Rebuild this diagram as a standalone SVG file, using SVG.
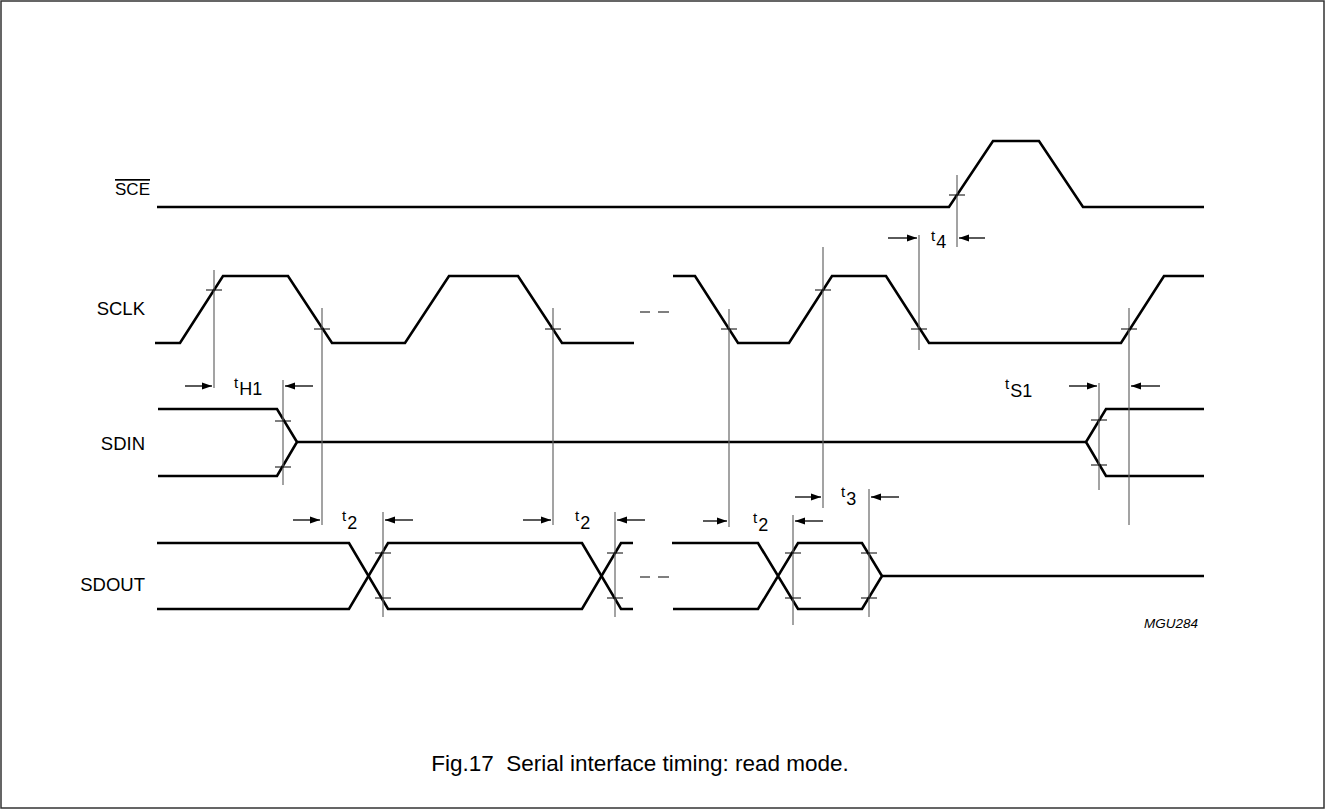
<svg xmlns="http://www.w3.org/2000/svg" width="1326" height="810" viewBox="0 0 1326 810">
<style>
.sig{fill:none;stroke:#000;stroke-width:2.6;stroke-linejoin:miter}
.ref{stroke:#666;stroke-width:1.2}
.tick{stroke:#000;stroke-width:1}
.arr{stroke:#000;stroke-width:1.3;marker-end:url(#ah)}
.lbl{font-family:"Liberation Sans",Arial,sans-serif;font-size:18.5px;fill:#000}
.t{font-family:"Liberation Sans",Arial,sans-serif;font-size:15px;fill:#000}
.sub{font-family:"Liberation Sans",Arial,sans-serif;font-size:18px;fill:#000}
.dash{stroke:#555;stroke-width:1.5}
</style>
<defs>
<marker id="ah" markerWidth="10" markerHeight="8" refX="10" refY="4" orient="auto" markerUnits="userSpaceOnUse">
<path d="M0,0.5 L10,4 L0,7.5 Z" fill="#000"/>
</marker>
</defs>
<rect x="1" y="1" width="1323" height="807" fill="#fff" stroke="#333" stroke-width="1.5"/>

<g id="labels">
<text class="lbl" x="150" y="195" text-anchor="end" text-decoration="overline" style="font-size:17px">SCE</text>
<text class="lbl" x="145" y="315" text-anchor="end">SCLK</text>
<text class="lbl" x="145" y="450" text-anchor="end">SDIN</text>
<text class="lbl" x="145" y="591" text-anchor="end">SDOUT</text>
</g>

<g id="SCE">
<polyline class="sig" points="157,207 949,207 993,141 1039,141 1083,207 1204,207"/>
</g>
<g id="SCLK">
<polyline class="sig" points="155,343 180,343 223,276 288,276 332,343 405,343 449,276 518,276 562,343 634,343"/>
<polyline class="sig" points="673,276 695,276 738,343 789,343 832,276 886,276 929,343 1121,343 1164,276 1204,276"/>
<line class="dash" x1="640" y1="312" x2="650" y2="312"/>
<line class="dash" x1="658" y1="312" x2="669" y2="312"/>
</g>
<g id="SDIN">
<polyline class="sig" points="158,409 277,409 297,442 277,476 158,476"/>
<line class="sig" x1="297" y1="442" x2="1086" y2="442"/>
<polyline class="sig" points="1204,409 1106,409 1086,442 1106,476 1204,476"/>
</g>
<g id="SDOUT">
<polyline class="sig" points="157,543 349,543 388,609 582,609 621,543 633,543"/>
<polyline class="sig" points="157,609 349,609 388,543 582,543 621,609 633,609"/>
<line class="dash" x1="640" y1="577" x2="650" y2="577"/>
<line class="dash" x1="658" y1="577" x2="669" y2="577"/>
<polyline class="sig" points="672,543 758,543 798,609 862,609 882,576 862,543 798,543 758,609 673,609"/>
<line class="sig" x1="882" y1="576" x2="1204" y2="576"/>
</g>

<g id="connectors">
<g id="reflines">
<line class="ref" x1="214" y1="270" x2="214" y2="388"/>
<line class="ref" x1="322" y1="308" x2="322" y2="525"/>
<line class="ref" x1="283" y1="380" x2="283" y2="485"/>
<line class="ref" x1="553" y1="308" x2="553" y2="525"/>
<line class="ref" x1="383" y1="512" x2="383" y2="617"/>
<line class="ref" x1="615" y1="512" x2="615" y2="617"/>
<line class="ref" x1="729" y1="309" x2="729" y2="527"/>
<line class="ref" x1="793" y1="515" x2="793" y2="625"/>
<line class="ref" x1="823" y1="247" x2="823" y2="508"/>
<line class="ref" x1="869" y1="489" x2="869" y2="617"/>
<line class="ref" x1="919" y1="235" x2="919" y2="350"/>
<line class="ref" x1="957" y1="175" x2="957" y2="247"/>
<line class="ref" x1="1099" y1="383" x2="1099" y2="490"/>
<line class="ref" x1="1129" y1="308" x2="1129" y2="525"/>
</g>
<g id="ticks">
<line class="tick" x1="949" y1="195" x2="965" y2="195"/>
<line class="tick" x1="206" y1="290" x2="222" y2="290"/>
<line class="tick" x1="314" y1="329" x2="330" y2="329"/>
<line class="tick" x1="545" y1="329" x2="561" y2="329"/>
<line class="tick" x1="721" y1="329" x2="737" y2="329"/>
<line class="tick" x1="815" y1="290" x2="831" y2="290"/>
<line class="tick" x1="911" y1="329" x2="927" y2="329"/>
<line class="tick" x1="1121" y1="329" x2="1137" y2="329"/>
<line class="tick" x1="275" y1="421" x2="291" y2="421"/>
<line class="tick" x1="275" y1="467" x2="291" y2="467"/>
<line class="tick" x1="1091" y1="420" x2="1107" y2="420"/>
<line class="tick" x1="1091" y1="465" x2="1107" y2="465"/>
<line class="tick" x1="375" y1="553" x2="391" y2="553"/>
<line class="tick" x1="375" y1="598" x2="391" y2="598"/>
<line class="tick" x1="607" y1="553" x2="623" y2="553"/>
<line class="tick" x1="607" y1="598" x2="623" y2="598"/>
<line class="tick" x1="785" y1="553" x2="801" y2="553"/>
<line class="tick" x1="785" y1="598" x2="801" y2="598"/>
<line class="tick" x1="861" y1="553" x2="877" y2="553"/>
<line class="tick" x1="861" y1="598" x2="877" y2="598"/>
</g>
<g id="arrows">
<line class="arr" x1="185" y1="386" x2="212" y2="386"/>
<line class="arr" x1="313" y1="386" x2="285" y2="386"/>
<line class="arr" x1="1069" y1="386" x2="1097" y2="386"/>
<line class="arr" x1="1160" y1="386" x2="1131" y2="386"/>
<line class="arr" x1="888" y1="238" x2="917" y2="238"/>
<line class="arr" x1="985" y1="238" x2="959" y2="238"/>
<line class="arr" x1="293" y1="520" x2="320" y2="520"/>
<line class="arr" x1="413" y1="520" x2="385" y2="520"/>
<line class="arr" x1="523" y1="520" x2="551" y2="520"/>
<line class="arr" x1="645" y1="520" x2="617" y2="520"/>
<line class="arr" x1="703" y1="521" x2="727" y2="521"/>
<line class="arr" x1="823" y1="521" x2="795" y2="521"/>
<line class="arr" x1="795" y1="497" x2="821" y2="497"/>
<line class="arr" x1="899" y1="497" x2="871" y2="497"/>
</g>
</g>

<g id="timing-labels">
<text x="931" y="241"><tspan class="t">t</tspan><tspan class="sub" dx="1" dy="7">4</tspan></text>
<text x="234" y="388"><tspan class="t">t</tspan><tspan class="sub" dx="1" dy="7">H1</tspan></text>
<text x="1005" y="389"><tspan class="t">t</tspan><tspan class="sub" dx="1" dy="8">S1</tspan></text>
<text x="342" y="521"><tspan class="t">t</tspan><tspan class="sub" dx="1" dy="8">2</tspan></text>
<text x="575" y="521"><tspan class="t">t</tspan><tspan class="sub" dx="1" dy="8">2</tspan></text>
<text x="753" y="523"><tspan class="t">t</tspan><tspan class="sub" dx="1" dy="8">2</tspan></text>
<text x="841" y="497"><tspan class="t">t</tspan><tspan class="sub" dx="1" dy="8">3</tspan></text>
</g>

<text x="1198" y="628" text-anchor="end" font-family="Liberation Sans, Arial, sans-serif" font-size="13.5" font-style="italic">MGU284</text>
<text x="640" y="771" text-anchor="middle" font-family="Liberation Sans, Arial, sans-serif" font-size="22.5">Fig.17&#160; Serial interface timing: read mode.</text>
</svg>
